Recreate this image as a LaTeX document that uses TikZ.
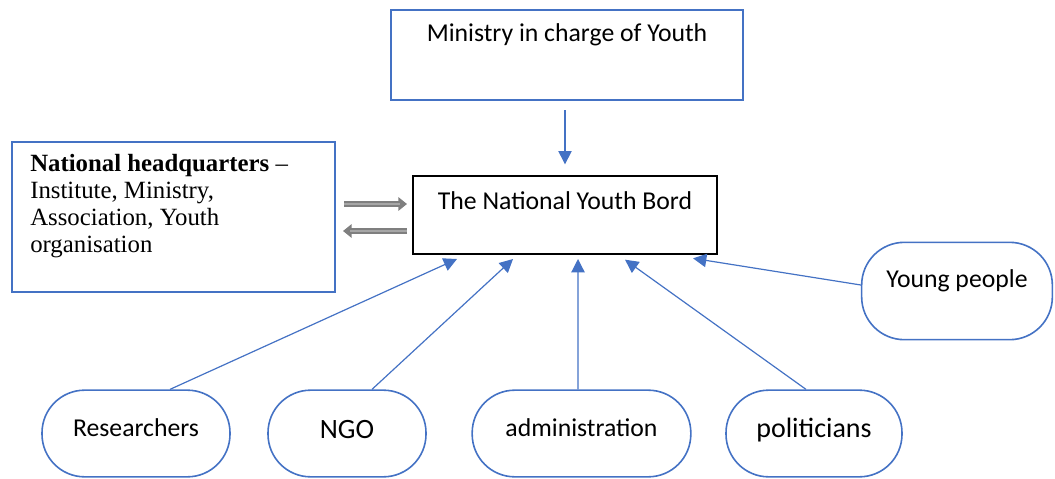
\documentclass[tikz,border=0pt]{standalone}
\usepackage{fontspec}
\setmainfont{Carlito}
\newfontfamily\serifhq{Liberation Serif}
\usetikzlibrary{arrows.meta}
\definecolor{wordblue}{HTML}{4472C4}
\definecolor{arrowgray}{HTML}{7F7F7F}
\definecolor{arrowlight}{HTML}{A6A6A6}
\begin{document}
\begin{tikzpicture}[x=0.75pt,y=-0.75pt,
  bluebox/.style={draw=wordblue,line width=1.5pt,rectangle,inner sep=0pt},
  roundbox/.style={draw=wordblue,line width=1.2pt,rectangle,rounded corners=32pt,inner sep=0pt},
  label/.style={inner sep=0pt,font=\fontsize{19.3}{22}\selectfont},
  biglabel/.style={inner sep=0pt,font=\fontsize{21}{24}\selectfont},
  link/.style={draw=wordblue,line width=0.9pt,-{Triangle[length=10pt,width=10pt]}},
  grayarrow/.style={draw=arrowgray,line width=3.8pt,-{Triangle[length=6.5pt,width=10pt]}},
  grayinner/.style={draw=arrowlight,line width=1.2pt,shorten >=5pt}]
\useasboundingbox (0,0) rectangle (1055,478);

% top and central boxes
\node[bluebox,minimum width=264pt,minimum height=67.5pt] (ministry) at (567,55) {};
\node[label] (ministrytxt) at (567,35) {Ministry in charge of Youth};
\node[draw=black,line width=1.5pt,rectangle,inner sep=0pt,minimum width=228pt,minimum height=58.5pt] (board) at (565,215) {};
\node[label] (boardtxt) at (565,201) {The National Youth Bord};

% headquarters box
\node[bluebox,minimum width=242pt,minimum height=112.5pt] (hq) at (173.5,217) {};
\node[inner sep=0pt,anchor=north west,align=left,font=\serifhq\fontsize{18.6}{20.3}\selectfont] (hqtxt) at (30,154)
  {\textbf{National headquarters} –\\Institute, Ministry,\\Association, Youth\\organisation};

% rounded boxes
\node[roundbox,minimum width=141pt,minimum height=65pt] (res) at (136,433.5) {};
\node[label] (restxt) at (136,428) {Researchers};
\node[roundbox,minimum width=118.5pt,minimum height=65pt] (ngo) at (347,433.5) {};
\node[biglabel] (ngotxt) at (347,430) {NGO};
\node[roundbox,minimum width=164pt,minimum height=65pt] (adm) at (581.5,433.5) {};
\node[label] (admtxt) at (581.5,428) {administration};
\node[roundbox,minimum width=132pt,minimum height=65pt] (pol) at (814,433.5) {};
\node[biglabel] (poltxt) at (814,430) {politicians};
\node[roundbox,minimum width=143pt,minimum height=73pt] (young) at (957,291) {};
\node[label] (youngtxt) at (957,281) {Young people};

% connectors
\coordinate (mstart) at (565,110);
\draw[link] (mstart) -- ([yshift=8pt]board.north);
\draw[link] ([xshift=25.5pt]res.north) -- ([xshift=-81pt,yshift=-3pt]board.south);
\draw[link] ([xshift=18.75pt]ngo.north) -- ([xshift=-39pt,yshift=-3pt]board.south);
\draw[link] ([xshift=-2.6pt]adm.north) -- ([xshift=9.75pt,yshift=-3pt]board.south);
\draw[link] ([xshift=-6pt]pol.north) -- ([xshift=45pt,yshift=-3.5pt]board.south);
\draw[link] ([yshift=4.5pt]young.west) -- ([xshift=96pt,yshift=-2.5pt]board.south);

% exchange arrows between headquarters and board
\coordinate (outA) at (344,204);
\coordinate (inA) at (407,204);
\coordinate (outB) at (407,231);
\coordinate (inB) at (343,231);
\draw[grayarrow] (outA) -- (inA);
\draw[grayinner] (outA) -- (inA);
\draw[grayarrow] (outB) -- (inB);
\draw[grayinner] (outB) -- (inB);
\end{tikzpicture}
\end{document}
